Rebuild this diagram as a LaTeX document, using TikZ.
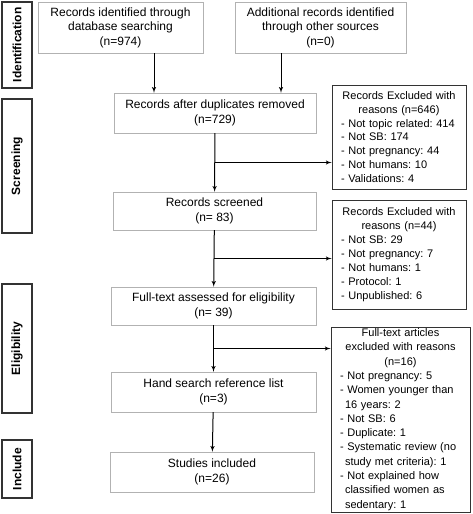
\documentclass[tikz,border=0pt]{standalone}
\usepackage{fontspec}
\setmainfont{Liberation Sans}
\usepackage{tikz}
\usetikzlibrary{arrows,shapes,positioning,calc}
\definecolor[named]{BoxGray}{gray}{.7}
\definecolor[named]{Frame}{gray}{.2}
\frenchspacing
\tikzset{stage/.style ={
        draw=Frame,
        line width=1.1pt,
        rotate=90,
        inner sep=0pt,
        minimum height=30pt,
        font=\fontsize{12}{14.5}\selectfont\bfseries
    },
    step box/.style ={
        draw=BoxGray,
        fill=white,
        inner sep=0pt,
        align=center,
        font=\fontsize{12}{14.5}\selectfont
    },
    excl/.style ={
        draw=Frame,
        line width=.8pt,
        inner xsep=9pt,
        inner ysep=0pt,
        align=left,
        font=\fontsize{11}{13.9}\selectfont
    },
    flow/.style ={
        draw,
        line width=1pt,
        -latex'
    },
    branch/.style ={
        draw,
        line width=1pt,
        -latex'
    }}

\begin{document}
\begin{tikzpicture}[x=1pt,y=-1pt]
	\useasboundingbox (0,0) rectangle (472,514);
	% stages
	\node[stage,minimum width=86pt] (sid) at (17,45) {Identification};
	\node[stage,minimum width=134pt] (sscr) at (17,166) {Screening};
	\node[stage,minimum width=129pt] (selig) at (17,348.5) {Eligibility};
	\node[stage,minimum width=58pt] (sincl) at (17,469) {Include};
	% main flow
	\node[step box,minimum width=165pt,minimum height=51pt] (db) at (120.5,27.5)
		{Records identified through\\database searching\\(n=974)};
	\node[step box,minimum width=171pt,minimum height=51pt] (other) at (320.5,27.5)
		{Additional records identified\\through other sources\\(n=0)};
	\node[step box,minimum width=202pt,minimum height=40pt] (dup) at (215,113)
		{Records after duplicates removed\\(n=729)};
	\node[step box,minimum width=203pt,minimum height=38pt] (scr) at (214.5,211)
		{Records screened\\(n= 83)};
	\node[step box,minimum width=205pt,minimum height=38pt] (full) at (213.5,306)
		{Full-text assessed for eligibility\\(n= 39)};
	\node[step box,minimum width=205pt,minimum height=40pt] (hand) at (213.5,392)
		{Hand search reference list\\(n=3)};
	\node[step box,minimum width=204pt,minimum height=40pt] (incl) at (212,472)
		{Studies included\\(n=26)};
	% exclusions
	\node[excl,text width=116pt,minimum height=104pt] (ex1) at (399,137)
		{{\centering Records Excluded with\\reasons (n=646)\par}
		- Not topic related: 414\\
		- Not SB: 174\\
		- Not pregnancy: 44\\
		- Not humans: 10\\
		- Validations: 4};
	\node[excl,text width=116pt,minimum height=109pt] (ex2) at (399,254.5)
		{{\centering Records Excluded with\\reasons (n=44)\par}
		- Not SB: 29\\
		- Not pregnancy: 7\\
		- Not humans: 1\\
		- Protocol: 1\\
		- Unpublished: 6};
	\node[excl,text width=121pt,minimum height=185pt,font=\fontsize{11}{14.3}\selectfont] (ex3) at (400.5,419.5)
		{{\centering Full-text articles\\excluded with reasons\\(n=16)\par}
		- Not pregnancy: 5\\
		- Women younger than\\
		\hspace*{5pt}16 years: 2\\
		- Not SB: 6\\
		- Duplicate: 1\\
		- Systematic review (no\\
		\hspace*{5pt}study met criteria): 1\\
		- Not explained how\\
		\hspace*{5pt}classified women as\\
		\hspace*{5pt}sedentary: 1};
	% connectors
	\draw[flow] ([xshift=33.5pt]db.south) -- ([xshift=33.5pt]db.south |- dup.north);
	\draw[flow] ([xshift=-39.5pt]other.south) -- ([xshift=-39.5pt]other.south |- dup.north);
	\draw[flow] (dup) -- (scr);
	\draw[flow] (scr) -- (full);
	\draw[flow] (full) -- (hand);
	\draw[flow] (hand) -- (incl);
	\coordinate (b1) at ($(dup.south)!.5!(scr.north)$);
	\coordinate (b2) at ($(scr.south)!.5!(full.north)$);
	\coordinate (b3) at ($(full.south)!.5!(hand.north)$);
	\draw[branch] (b1) -- (b1 -| ex1.west);
	\draw[branch] (b2) -- (b2 -| ex2.west);
	\draw[branch] (b3) -- (b3 -| ex3.west);
\end{tikzpicture}
\end{document}
